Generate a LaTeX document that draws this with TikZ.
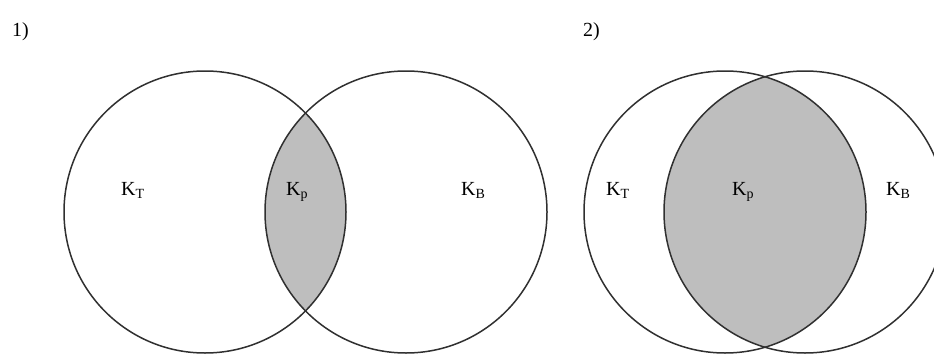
\documentclass[tikz,border=0pt]{standalone}
\usepackage{fontspec}
\setmainfont{Liberation Serif}
\usetikzlibrary{positioning}
\definecolor{vnline}{HTML}{303030}
\definecolor{vnfill}{HTML}{BEBEBE}
\newcommand{\lowsub}[1]{\raisebox{-0.4ex}{\fontsize{14}{16}\selectfont #1}}

\begin{document}
\begin{tikzpicture}[x=1pt, y=-1pt,
    every node/.style={font=\fontsize{20}{23}\selectfont, inner sep=0pt, anchor=base west},
    set/.style={vnline, line width=1.5pt}]
  \useasboundingbox (0,0) rectangle (934,356);

  % Case 1: small common part
  \coordinate (t1) at (205,212);
  \coordinate (b1) at (406,212);
  \begin{scope}
    \clip (t1) circle (141pt);
    \fill[vnfill] (b1) circle (141pt);
  \end{scope}
  \draw[set] (t1) circle (141pt);
  \draw[set] (b1) circle (141pt);

  % Case 2: large common part
  \coordinate (t2) at (725,212);
  \coordinate (b2) at (805,212);
  \begin{scope}
    \clip (t2) circle (141pt);
    \fill[vnfill] (b2) circle (141pt);
  \end{scope}
  \draw[set] (t2) circle (141pt);
  \draw[set] (b2) circle (141pt);

  % Labels
  \node (n1) at (12,36) {1)};
  \node (n2) at (583,36) {2)};
  \node (kt1) at (121,195) {K\lowsub{T}};
  \node (kp1) at (286,195) {K\lowsub{p}};
  \node (kb1) at (461,195) {K\lowsub{B}};
  \node (kt2) at (606,195) {K\lowsub{T}};
  \node (kp2) at (732,195) {K\lowsub{p}};
  \node (kb2) at (886,195) {K\lowsub{B}};
\end{tikzpicture}
\end{document}
